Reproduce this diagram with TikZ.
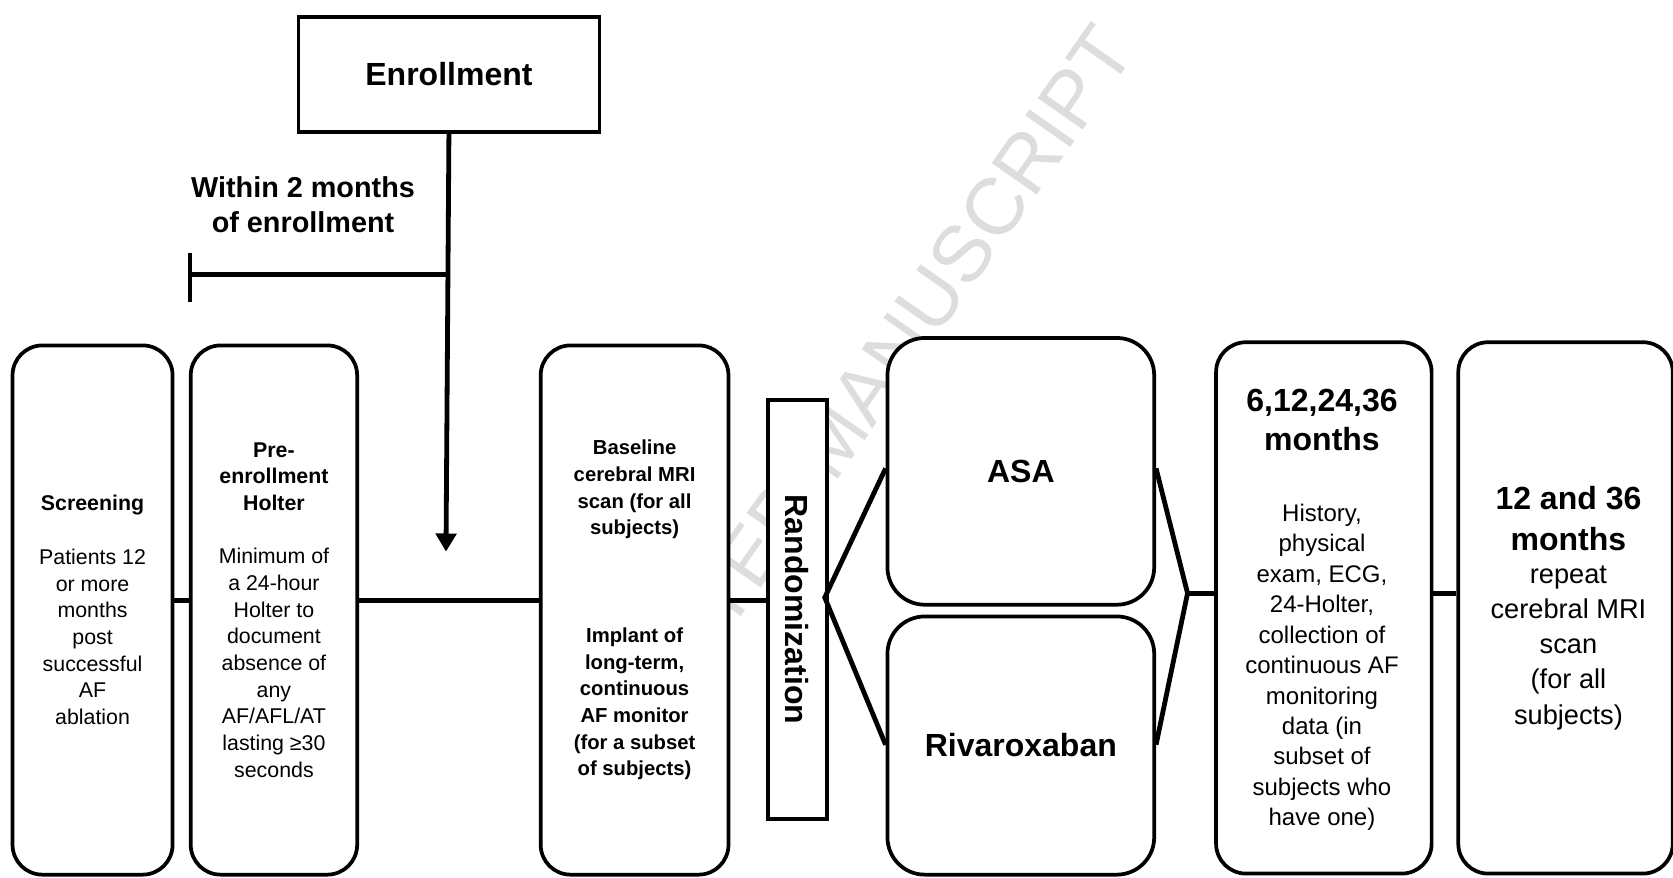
\documentclass[tikz,border=0pt]{standalone}
\usepackage{fontspec}
\setmainfont{Liberation Sans}
\usetikzlibrary{arrows.meta}
\begin{document}
\begin{tikzpicture}[x=1pt,y=-1pt,
  rbox/.style={draw, line width=3.5, rounded corners=28, fill=white, anchor=north west, inner sep=0, align=center},
  sbox/.style={draw, line width=3.5, fill=white, anchor=north west, inner sep=0},
  conn/.style={line width=4.5},
  bodytxt/.style={font=\fontsize{20}{25}\selectfont},
  bastxt/.style={font=\bfseries\fontsize{19}{25}\selectfont},
  headtxt/.style={font=\bfseries\fontsize{30}{37}\selectfont, align=center},
  wmark/.style={text=gray!27, font=\fontsize{75}{80}\selectfont}]
\useasboundingbox (0,0) rectangle (1568,822);
% watermark
\node[wmark, rotate=55] (wm) at (780,412) {ACCEPTED MANUSCRIPT};
% boxes
\node[sbox, minimum width=282, minimum height=108] (enr) at (278,14) {};
\node[font=\bfseries\fontsize{30}{37}\selectfont] (enrt) at (enr.center) {Enrollment};
\node[font=\bfseries\fontsize{27}{33}\selectfont, align=center] (within) at (284,191.5) {Within 2 months\\of enrollment};
\node[rbox, bodytxt, minimum width=150, minimum height=496] (scr) at (10,322)
  {\textbf{Screening}\\[25pt]Patients 12\\or more\\months\\post\\successful\\AF\\ablation};
\node[rbox, bodytxt, minimum width=156, minimum height=496] (pre) at (177,322)
  {\textbf{Pre-}\\\textbf{enrollment}\\\textbf{Holter}\\[25pt]Minimum of\\a 24-hour\\Holter to\\document\\absence of\\any\\AF/AFL/AT\\lasting ≥30\\seconds};
\node[rbox, bastxt, minimum width=176, minimum height=496] (bas) at (505,322)
  {Baseline\\cerebral MRI\\scan (for all\\subjects)\\[76pt]Implant of\\long-term,\\continuous\\AF monitor\\(for a subset\\of subjects)};
\node[sbox, minimum width=55, minimum height=393] (rnd) at (718,373) {};
\node[font=\bfseries\fontsize{30}{37}\selectfont, rotate=-90] (rndt) at (rnd.center) {Randomization};
\node[rbox, rounded corners=35, minimum width=250, minimum height=250] (asa) at (830,315) {};
\node[headtxt] (asat) at (asa.center) {ASA};
\node[rbox, rounded corners=35, minimum width=250, minimum height=242] (riv) at (830,576) {};
\node[headtxt] (rivt) at (riv.center) {Rivaroxaban};
\node[rbox, minimum width=202, minimum height=498] (m6) at (1138,319) {};
\node[headtxt] (m6h) at (1239,393.5) {6,12,24,36\\months};
\node[font=\fontsize{22.5}{28.5}\selectfont, align=center] (m6b) at (1239,625.5)
  {History,\\physical\\exam, ECG,\\24-Holter,\\collection of\\continuous AF\\monitoring\\data (in\\subset of\\subjects who\\have one)};
\node[rbox, minimum width=201, minimum height=498] (m12) at (1365,319) {};
\node[font=\bfseries\fontsize{30}{38}\selectfont, align=center] (m12h) at (1470,486) {12 and 36\\months};
\node[font=\fontsize{25.5}{33}\selectfont, align=center] (m12b) at (1470,607)
  {repeat\\cerebral MRI\\scan\\(for all\\subjects)};
% connectors
\coordinate (yl) at (0,563);
\coordinate (tip) at (418,517);
\coordinate (bl) at (178,257);
\coordinate (bt) at (178,237);
\coordinate (bb) at (178,283);
\coordinate (apl) at (773,560);
\coordinate (apr) at (1113,556);
\draw[conn, -{Triangle[length=17,width=19]}] (enr.south) -- (tip);
\draw[conn] (enr.south |- bl) -- (bl);
\draw[conn] (bt) -- (bb);
\draw[conn] (scr.east |- yl) -- (pre.west |- yl);
\draw[conn] (pre.east |- yl) -- (bas.west |- yl);
\draw[conn] (bas.east |- yl) -- (rnd.west |- yl);
\draw[conn, line join=miter] (asa.west |- 0,439) -- (apl) -- (riv.west |- 0,698);
\draw[conn, line join=miter] (asa.east |- 0,439) -- (apr) -- (riv.east |- 0,698);
\draw[conn] (apr) -- (m6.west |- apr);
\draw[conn] (m6.east |- apr) -- (m12.west |- apr);
\end{tikzpicture}
\end{document}
